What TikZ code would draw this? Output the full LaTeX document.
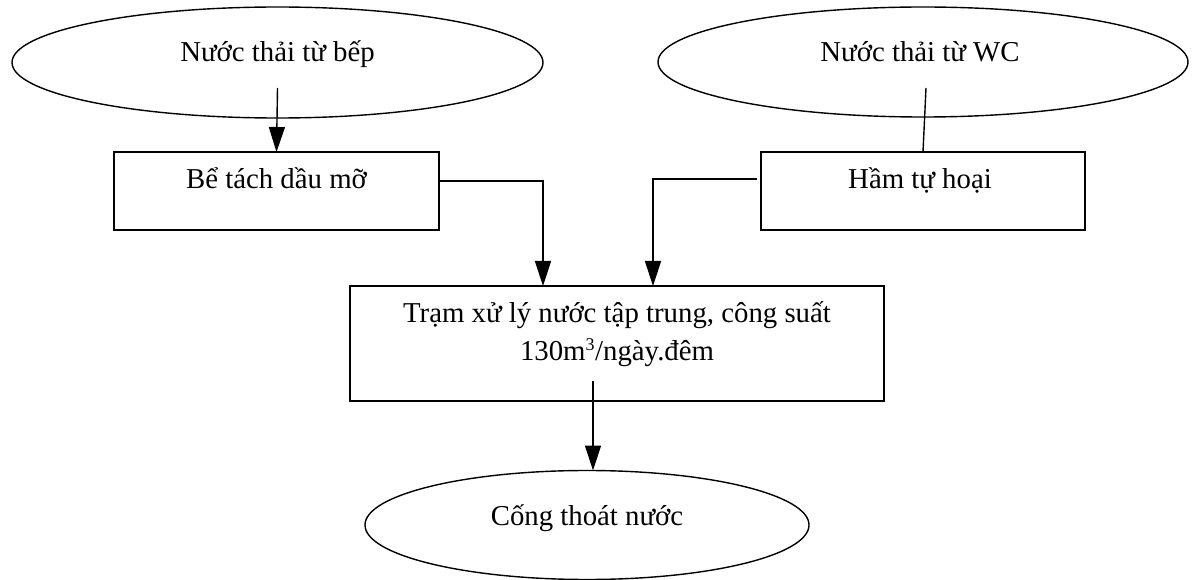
\documentclass[tikz,border=0pt]{standalone}
\usepackage{fontspec}
\setmainfont{Liberation Serif}
\usetikzlibrary{shapes.geometric,arrows.meta}
\begin{document}
\begin{tikzpicture}[x=1pt,y=-1pt,
  every node/.style={inner sep=0pt,outer sep=0pt},
  shapeline/.style={draw=black,line width=1.4pt},
  oval/.style={shapeline,ellipse},
  boxnode/.style={shapeline,rectangle},
  lbl/.style={anchor=base,font=\fontsize{28.8}{33}\selectfont},
  conn/.style={line width=1.4pt,black},
  arr/.style={conn,-{Triangle[length=25pt,width=16pt]}}
]
\useasboundingbox (0,0) rectangle (1192,580);
% shapes
\node[oval,minimum width=531pt,minimum height=111pt] (e1) at (277.5,62.5) {};
\node[oval,minimum width=530pt,minimum height=110pt] (e2) at (923,62) {};
\node[boxnode,minimum width=325pt,minimum height=78pt] (b1) at (276.5,191) {};
\node[boxnode,minimum width=324pt,minimum height=78pt] (b2) at (923,191) {};
\node[boxnode,minimum width=534pt,minimum height=115pt] (b3) at (617,343.5) {};
\node[oval,minimum width=444pt,minimum height=109pt] (e3) at (587,525) {};
% texts
\node[lbl] (t1) at (277.5,62) {Nước thải từ bếp};
\node[lbl] (t2) at (920,62) {Nước thải từ WC};
\node[lbl] (t4) at (276.5,189) {Bể tách dầu mỡ};
\node[lbl] (t5) at (920,189) {Hầm tự hoại};
\node[lbl] (t3a) at (617,323) {Trạm xử lý nước tập trung, công suất};
\node[lbl] (t3b) at (617,360) {130m\textsuperscript{\fontsize{18}{20}\selectfont 3}/ngày.đêm};
\node[lbl] (t6) at (587,525) {Cống thoát nước};
% connector end points
\coordinate (s1) at (277.5,88);
\coordinate (s2) at (926,88);
\coordinate (l1) at (439,181);
\coordinate (l2) at (543,286);
\coordinate (r1) at (757,179);
\coordinate (r2) at (653,286);
\coordinate (d1) at (593,381);
\coordinate (d2) at (593,470.5);
% connectors
\draw[arr] (s1) -- (b1.north);
\draw[conn] (s2) -- (b2.north);
\draw[arr] (l1) -| (l2);
\draw[arr] (r1) -| (r2);
\draw[arr] (d1) -- (d2);
\end{tikzpicture}
\end{document}
